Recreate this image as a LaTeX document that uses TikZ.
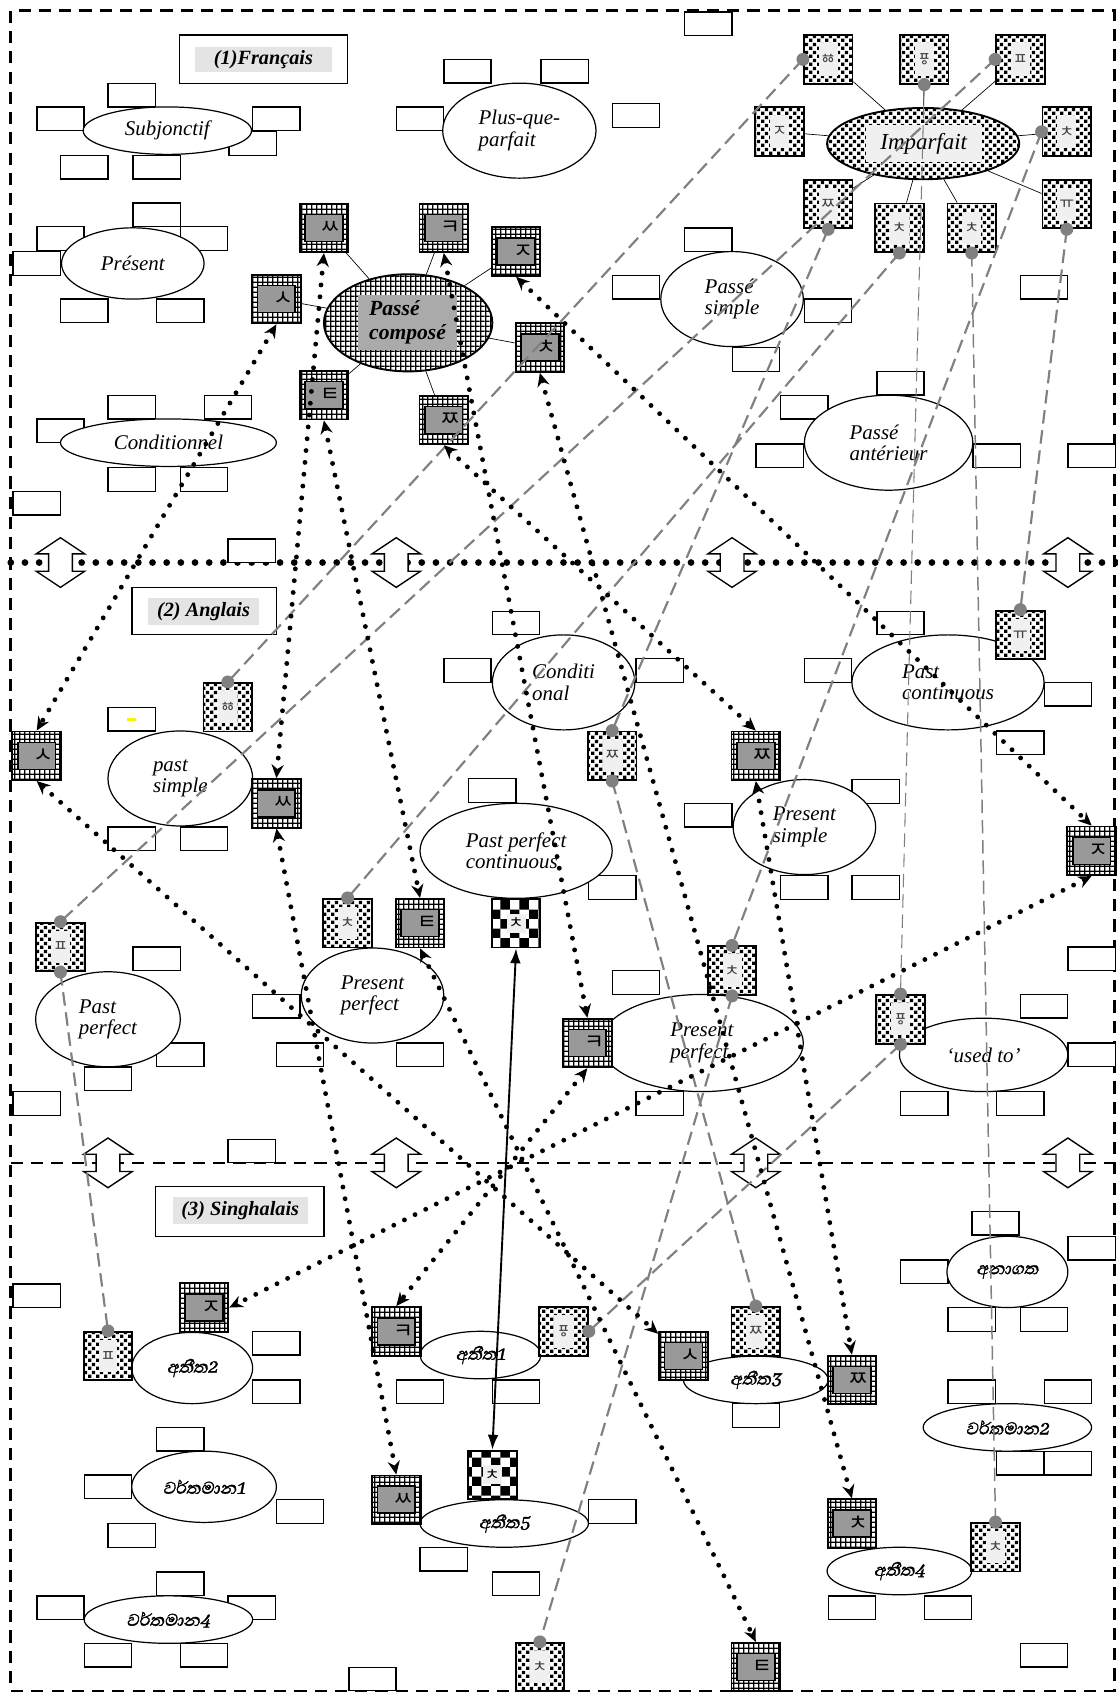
\documentclass[tikz,border=0pt]{standalone}
\usepackage{fontspec}
\setmainfont{Liberation Serif}
\newfontfamily\korfont{Noto Sans CJK KR}
\newfontfamily\sinfont[Script=Sinhala,FakeSlant=0.2,FakeBold=1.5]{Abhaya Libre}
\usetikzlibrary{arrows.meta,shapes.geometric,patterns,patterns.meta}
\definecolor{linkgray}{RGB}{128,128,128}
\definecolor{boxgray}{RGB}{153,153,153}
\definecolor{pcgray}{RGB}{170,170,170}
\definecolor{paper}{RGB}{240,240,240}
\definecolor{titlegray}{RGB}{228,228,228}

\tikzdeclarepattern{name=mesh, type=uncolored, bottom left={(0pt,0pt)}, top right={(3.6pt,3.6pt)},
  tile size={(3.6pt,3.6pt)}, code={\fill (0pt,0pt) rectangle (3.6pt,1pt); \fill (0pt,0pt) rectangle (1pt,3.6pt);}}
\tikzdeclarepattern{name=speckle, type=uncolored, bottom left={(0pt,0pt)}, top right={(6pt,6pt)},
  tile size={(6pt,6pt)}, code={\fill (0.2pt,0.2pt) rectangle (2.8pt,2.8pt); \fill (3.2pt,3.2pt) rectangle (5.8pt,5.8pt);}}
\tikzdeclarepattern{name=chess, type=uncolored, bottom left={(0pt,0pt)}, top right={(14pt,14pt)},
  tile size={(14pt,14pt)}, code={\fill (0pt,0pt) rectangle (7pt,7pt); \fill (7pt,7pt) rectangle (14pt,14pt);}}

\tikzset{
  cell/.style={draw, line width=1pt, fill=white, minimum width=35pt, minimum height=17.5pt, inner sep=0pt},
  tense/.style={ellipse, draw, line width=0.9pt, fill=white, inner sep=0pt, align=left,
    font=\fontsize{15.5}{16}\selectfont\itshape},
  sitense/.style={ellipse, draw, line width=0.9pt, fill=white, inner sep=0pt,
    font=\sinfont\fontsize{16}{17}\selectfont},
  hatch/.style={draw, line width=1.4pt, preaction={fill=white}, pattern=mesh, minimum size=36pt, inner sep=0pt},
  hatchin/.style={draw, line width=1.2pt, fill=boxgray, minimum width=28pt, minimum height=20pt, inner sep=0pt,
    text width=25pt, align=right, font=\korfont\fontsize{16}{16}\selectfont},
  speck/.style={draw, line width=1.4pt, preaction={fill=white}, pattern=speckle, minimum size=36pt, inner sep=0pt},
  speckin/.style={fill=paper, minimum width=14pt, minimum height=24pt, inner sep=0pt, text=black!75,
    font=\korfont\fontsize{12}{12}\selectfont},
  chessbox/.style={draw, line width=1.4pt, preaction={fill=white}, pattern=chess, minimum size=36pt, inner sep=0pt},
  titlebox/.style={draw, line width=1pt, inner sep=0pt},
  titlein/.style={fill=titlegray, inner sep=0pt, font=\fontsize{15}{16}\selectfont\bfseries\itshape},
  dotlink/.style={line width=3.6pt, line cap=round, dash pattern=on 0pt off 8.8pt, <->},
  glink/.style={draw=linkgray, line width=1.6pt, dash pattern=on 10pt off 5pt},
  gdot/.style={fill=linkgray},
  spoke/.style={line width=0.5pt},
  updown/.style={draw, line width=1pt, fill=white}
}

% boxes: name, position, letter
\newcommand{\hatchbox}[3]{%
  \node[hatch] (#1) at (#2) {};
  \node[hatchin] (#1-in) at (#2) {#3};}
\newcommand{\speckbox}[3]{%
  \node[speck] (#1) at (#2) {};
  \node[speckin] (#1-in) at (#2) {#3};}

\begin{document}
\begin{tikzpicture}[x=0.8pt,y=-0.8pt,>={Stealth[length=10pt,width=9pt]}]
\useasboundingbox (0,0) rectangle (1035,1568);

% frame and section borders
\draw[line width=2pt, dash pattern=on 9pt off 6pt] (10,10) rectangle (1032,1566);
\draw[line width=5pt, line cap=round, dash pattern=on 0pt off 10.5pt] (10,521) -- (1035,521);
\draw[line width=2pt, dash pattern=on 9pt off 6pt] (10,1077) -- (1035,1077);
\foreach \x/\y in {56/521, 367/521, 678/521, 989/521, 100/1077, 367/1077, 700/1077, 989/1077}
  \draw[updown, shift={(\x,\y)}] (0,-23) -- (22.5,-8) -- (11,-8) -- (11,8) -- (22.5,8) -- (0,23)
    -- (-22.5,8) -- (-11,8) -- (-11,-8) -- (-22.5,-8) -- cycle;

% empty slots
\foreach \x/\y [count=\i] in {122/88, 56/110, 256/110, 234/133, 78/155, 145/155,
    145/199, 56/221, 189/221, 34/244, 78/288, 167/288,
    122/377, 211/377, 56/399, 122/444, 189/444, 34/466, 233/510,
    433/66, 523/66, 389/110, 589/107, 656/22, 656/222, 589/266, 767/288, 700/333,
    834/355, 745/377, 722/422, 923/422, 1011/422, 967/266,
    122/666, 122/777, 189/777, 145/888, 167/977, 100/999, 34/1022,
    256/932, 278/977, 389/977, 233/1066, 478/577, 433/621, 456/732,
    611/621, 567/822, 656/755, 811/733, 745/822, 811/822, 767/621, 834/577,
    989/643, 945/688, 1011/888, 967/932, 1011/977, 856/1022, 945/1022, 589/910, 611/1022,
    34/1200, 256/1244, 256/1289, 167/1333, 100/1377, 278/1400, 122/1422,
    167/1467, 56/1489, 233/1489, 100/1533, 189/1533, 345/1555,
    389/1289, 478/1289, 567/1400, 411/1444, 478/1467, 700/1311,
    922/1133, 1011/1156, 856/1178, 900/1222, 967/1222,
    900/1289, 989/1289, 945/1355, 989/1355, 789/1489, 878/1489, 967/1533}
  \node[cell] (c\i) at (\x,\y) {};
\fill[yellow] (118,665) rectangle (126,667.5);

% titles
\node[titlebox, minimum width=124.8pt, minimum height=36pt] (t1) at (244,55) {};
\node[titlein, minimum width=101pt, minimum height=19pt] (t1-in) at (244,55) {(1)Français};
\node[titlebox, minimum width=107pt, minimum height=35pt] (t2) at (189,566) {};
\node[titlein, minimum width=82pt, minimum height=20pt] (t2-in) at (188.5,566.5) {(2) Anglais};
\node[titlebox, minimum width=125pt, minimum height=37pt] (t3) at (222,1122) {};
\node[titlein, minimum width=100pt, minimum height=20pt] (t3-in) at (222.5,1121.5) {(3) Singhalais};

% (1) French tenses
\node[tense, minimum width=124.8pt, minimum height=35.2pt] (fsubj) at (155,121) {Subjonctif};
\node[tense, minimum width=105.6pt, minimum height=52.8pt] (fpres) at (123,244) {Présent};
\node[tense, minimum width=160pt, minimum height=35.2pt] (fcond) at (156,410) {Conditionnel};
\node[tense, minimum width=113.6pt, minimum height=70.4pt] (fpqp) at (481,121) {Plus-que-\\parfait};
\node[tense, minimum width=105.6pt, minimum height=70.4pt] (fps) at (678,277) {Passé\\simple};
\node[tense, minimum width=124.8pt, minimum height=70.4pt] (fpa) at (823,410) {Passé\\antérieur};
\node[ellipse, draw, line width=1.4pt, preaction={fill=white}, pattern=mesh,
  minimum width=124.8pt, minimum height=72pt] (fpc) at (378,299) {};
\node[fill=pcgray, minimum width=73pt, minimum height=41pt, inner sep=2pt, align=left,
  font=\fontsize{16}{18}\selectfont\bfseries\itshape] (fpc-in) at (377.5,298.5) {Passé\\composé};
\node[ellipse, draw, line width=1.4pt, preaction={fill=white}, pattern=speckle,
  minimum width=142.4pt, minimum height=52.8pt] (fimp) at (855,133) {};
\node[fill=paper, minimum width=86pt, minimum height=27pt, inner sep=0pt,
  font=\fontsize{17}{18}\selectfont\itshape] (fimp-in) at (855.5,133) {Imparfait};

\hatchbox{fS}{256,277}{ㅅ}
\hatchbox{fSS}{300,211}{ㅆ}
\hatchbox{fK}{411,211}{ㅋ}
\hatchbox{fJ}{478,233}{ㅈ}
\hatchbox{fC}{500,322}{ㅊ}
\hatchbox{fT}{300,366}{ㅌ}
\hatchbox{fJJ}{411,389}{ㅉ}
\foreach \b in {fS,fSS,fK,fJ,fC,fT,fJJ} \draw[spoke] (\b) -- (fpc);

\speckbox{iHH}{767,55}{ㆅ}
\speckbox{iKP}{856,55}{ㆄ}
\speckbox{iP}{945,55}{ㅍ}
\speckbox{iJ}{722,122}{ㅈ}
\speckbox{iC}{988,122}{ㅊ}
\speckbox{iJJ}{767,189}{ㅉ}
\speckbox{iC1}{833,211}{ㅊ}
\speckbox{iC2}{900,211}{ㅊ}
\speckbox{iYU}{988,189}{ㅠ}
\foreach \b in {iHH,iKP,iP,iJ,iC,iJJ,iC1,iC2,iYU} \draw[spoke] (\b) -- (fimp);

% (2) English tenses
\node[tense, minimum width=107.2pt, minimum height=70.4pt] (eps) at (167,721) {past\\simple};
\node[tense, minimum width=105.6pt, minimum height=70.4pt] (ecd) at (522,632) {Conditi\\onal};
\node[tense, minimum width=142.4pt, minimum height=70.4pt] (epc) at (878,632) {Past\\continuous};
\node[tense, minimum width=142.4pt, minimum height=70.4pt] (eppc) at (478,788) {Past perfect\\continuous};
\node[tense, minimum width=105.6pt, minimum height=70.4pt] (eprs) at (745,766) {Present\\simple};
\node[tense, minimum width=107.2pt, minimum height=70.4pt] (epp) at (100,944) {Past\\perfect};
\node[tense, minimum width=105.6pt, minimum height=70.4pt] (eprp) at (345,922) {Present\\perfect};
\node[tense, minimum width=150.4pt, minimum height=72pt] (eprp2) at (650,966) {Present\\perfect\hspace{22pt}};
\node[tense, minimum width=124.8pt, minimum height=54.4pt] (eused) at (911,977) {‘used to’};

\hatchbox{eS}{34,700}{ㅅ}
\hatchbox{eSS}{256,744}{ㅆ}
\hatchbox{eT}{389,855}{ㅌ}
\hatchbox{eK}{544,966}{ㅋ}
\hatchbox{eJJ}{700,700}{ㅉ}
\hatchbox{eJ}{1011,788}{ㅈ}
\speckbox{eHH}{211,655}{ㆅ}
\speckbox{eP}{56,877}{ㅍ}
\speckbox{eC}{322,855}{ㅊ}
\speckbox{eJJd}{567,700}{ㅉ}
\speckbox{eYU}{945,588}{ㅠ}
\speckbox{eCx}{678,899}{ㅊ}
\speckbox{eKP}{834,944}{ㆄ}
\node[chessbox] (eX) at (478,855) {};
\node[fill=paper, minimum size=14pt, inner sep=0pt, font=\korfont\fontsize{12}{12}\selectfont] (eX-in) at (478,855) {ㅊ};

% (3) Sinhala tenses
\node[sitense, minimum width=89.6pt, minimum height=52.8pt] (s2) at (178,1267) {අතීත2};
\node[sitense, minimum width=107.2pt, minimum height=52.8pt] (sv1) at (189,1377) {වර්තමාන1};
\node[sitense, minimum width=124.8pt, minimum height=35.2pt] (sv4) at (156,1500) {වර්තමාන4};
\node[sitense, minimum width=89.6pt, minimum height=35.2pt] (s1) at (445,1255) {අතීත1};
\node[sitense, minimum width=124.8pt, minimum height=35.2pt] (s5) at (467,1411) {අතීත5};
\node[sitense, minimum width=107.2pt, minimum height=35.2pt] (s3) at (700,1278) {අතීත3};
\node[sitense, minimum width=89.6pt, minimum height=52.8pt] (sfut) at (933,1178) {අනාගත};
\node[sitense, minimum width=124.8pt, minimum height=35.2pt] (sv2) at (933,1322) {වර්තමාන2};
\node[sitense, minimum width=107.2pt, minimum height=35.2pt] (s4) at (833,1455) {අතීත4};

\hatchbox{sJ}{189,1211}{ㅈ}
\hatchbox{sK}{367,1233}{ㅋ}
\hatchbox{sSS}{367,1389}{ㅆ}
\hatchbox{sS}{633,1256}{ㅅ}
\hatchbox{sJJ}{789,1278}{ㅉ}
\hatchbox{sC}{789,1411}{ㅊ}
\hatchbox{sT}{700,1544}{ㅌ}
\speckbox{sP}{100,1256}{ㅍ}
\speckbox{sKP}{522,1233}{ㆄ}
\speckbox{sJJd}{700,1233}{ㅉ}
\speckbox{sC2}{922,1433}{ㅊ}
\speckbox{sCx}{500,1544}{ㅊ}
\node[chessbox] (sX) at (456,1366) {};
\node[fill=paper, minimum size=14pt, inner sep=0pt, font=\korfont\fontsize{12}{12}\selectfont] (sX-in) at (456,1366) {ㅊ};

% grey links
\draw[glink] (iHH.west) -- (eHH.north);
\draw[glink, line width=0.8pt] (iKP.south) -- (eKP.north);
\draw[glink] (eKP.south) -- (sKP.east);
\draw[glink] (iP.west) -- (eP.north);
\draw[glink] (eP.south) -- (sP.north);
\draw[glink] (iJJ.south) -- (eJJd.north);
\draw[glink] (eJJd.south) -- (sJJd.north);
\draw[glink] (iC1.south) -- (eC.north);
\draw[glink, line width=1.1pt] (iC2.south) -- (sC2.north);
\draw[glink] (iYU.south) -- (eYU.north);
\draw[glink] (iC.west) -- (eCx.north);
\draw[glink] (eCx.south) -- (sCx.north);

% dotted links
\draw[dotlink] (fS.south) -- (eS.north);
\draw[dotlink] (eS.south) -- (sS);
\draw[dotlink] (fSS.south) -- (eSS.north);
\draw[dotlink] (eSS.south) -- (sSS.north);
\draw[dotlink] (fT.south) -- (eT.north);
\draw[dotlink] (eT.south) -- (sT.north);
\draw[dotlink] (fK.south) -- (eK.north);
\draw[dotlink] (eK.south) -- (sK.north);
\draw[dotlink] (fJ.south) -- (eJ.north);
\draw[dotlink] (eJ.south) -- (sJ.east);
\draw[dotlink] (fC.south) -- (sC.north);
\draw[dotlink] (fJJ.south) -- (eJJ.north);
\draw[dotlink] (eJJ.south) -- (sJJ.north);
\draw[line width=1.4pt, {Latex[length=11pt,width=8pt]}-{Latex[length=11pt,width=8pt]}] (eX.south) -- (sX.north);

\foreach \p in {iHH.west, eHH.north, iKP.south, eKP.north, eKP.south, sKP.east, iP.west, eP.north,
    eP.south, sP.north, iJJ.south, eJJd.north, eJJd.south, sJJd.north, iC1.south, eC.north,
    iC2.south, sC2.north, iYU.south, eYU.north, iC.west, eCx.north, eCx.south, sCx.north}
  \fill[gdot] (\p) circle (6);
\end{tikzpicture}
\end{document}
